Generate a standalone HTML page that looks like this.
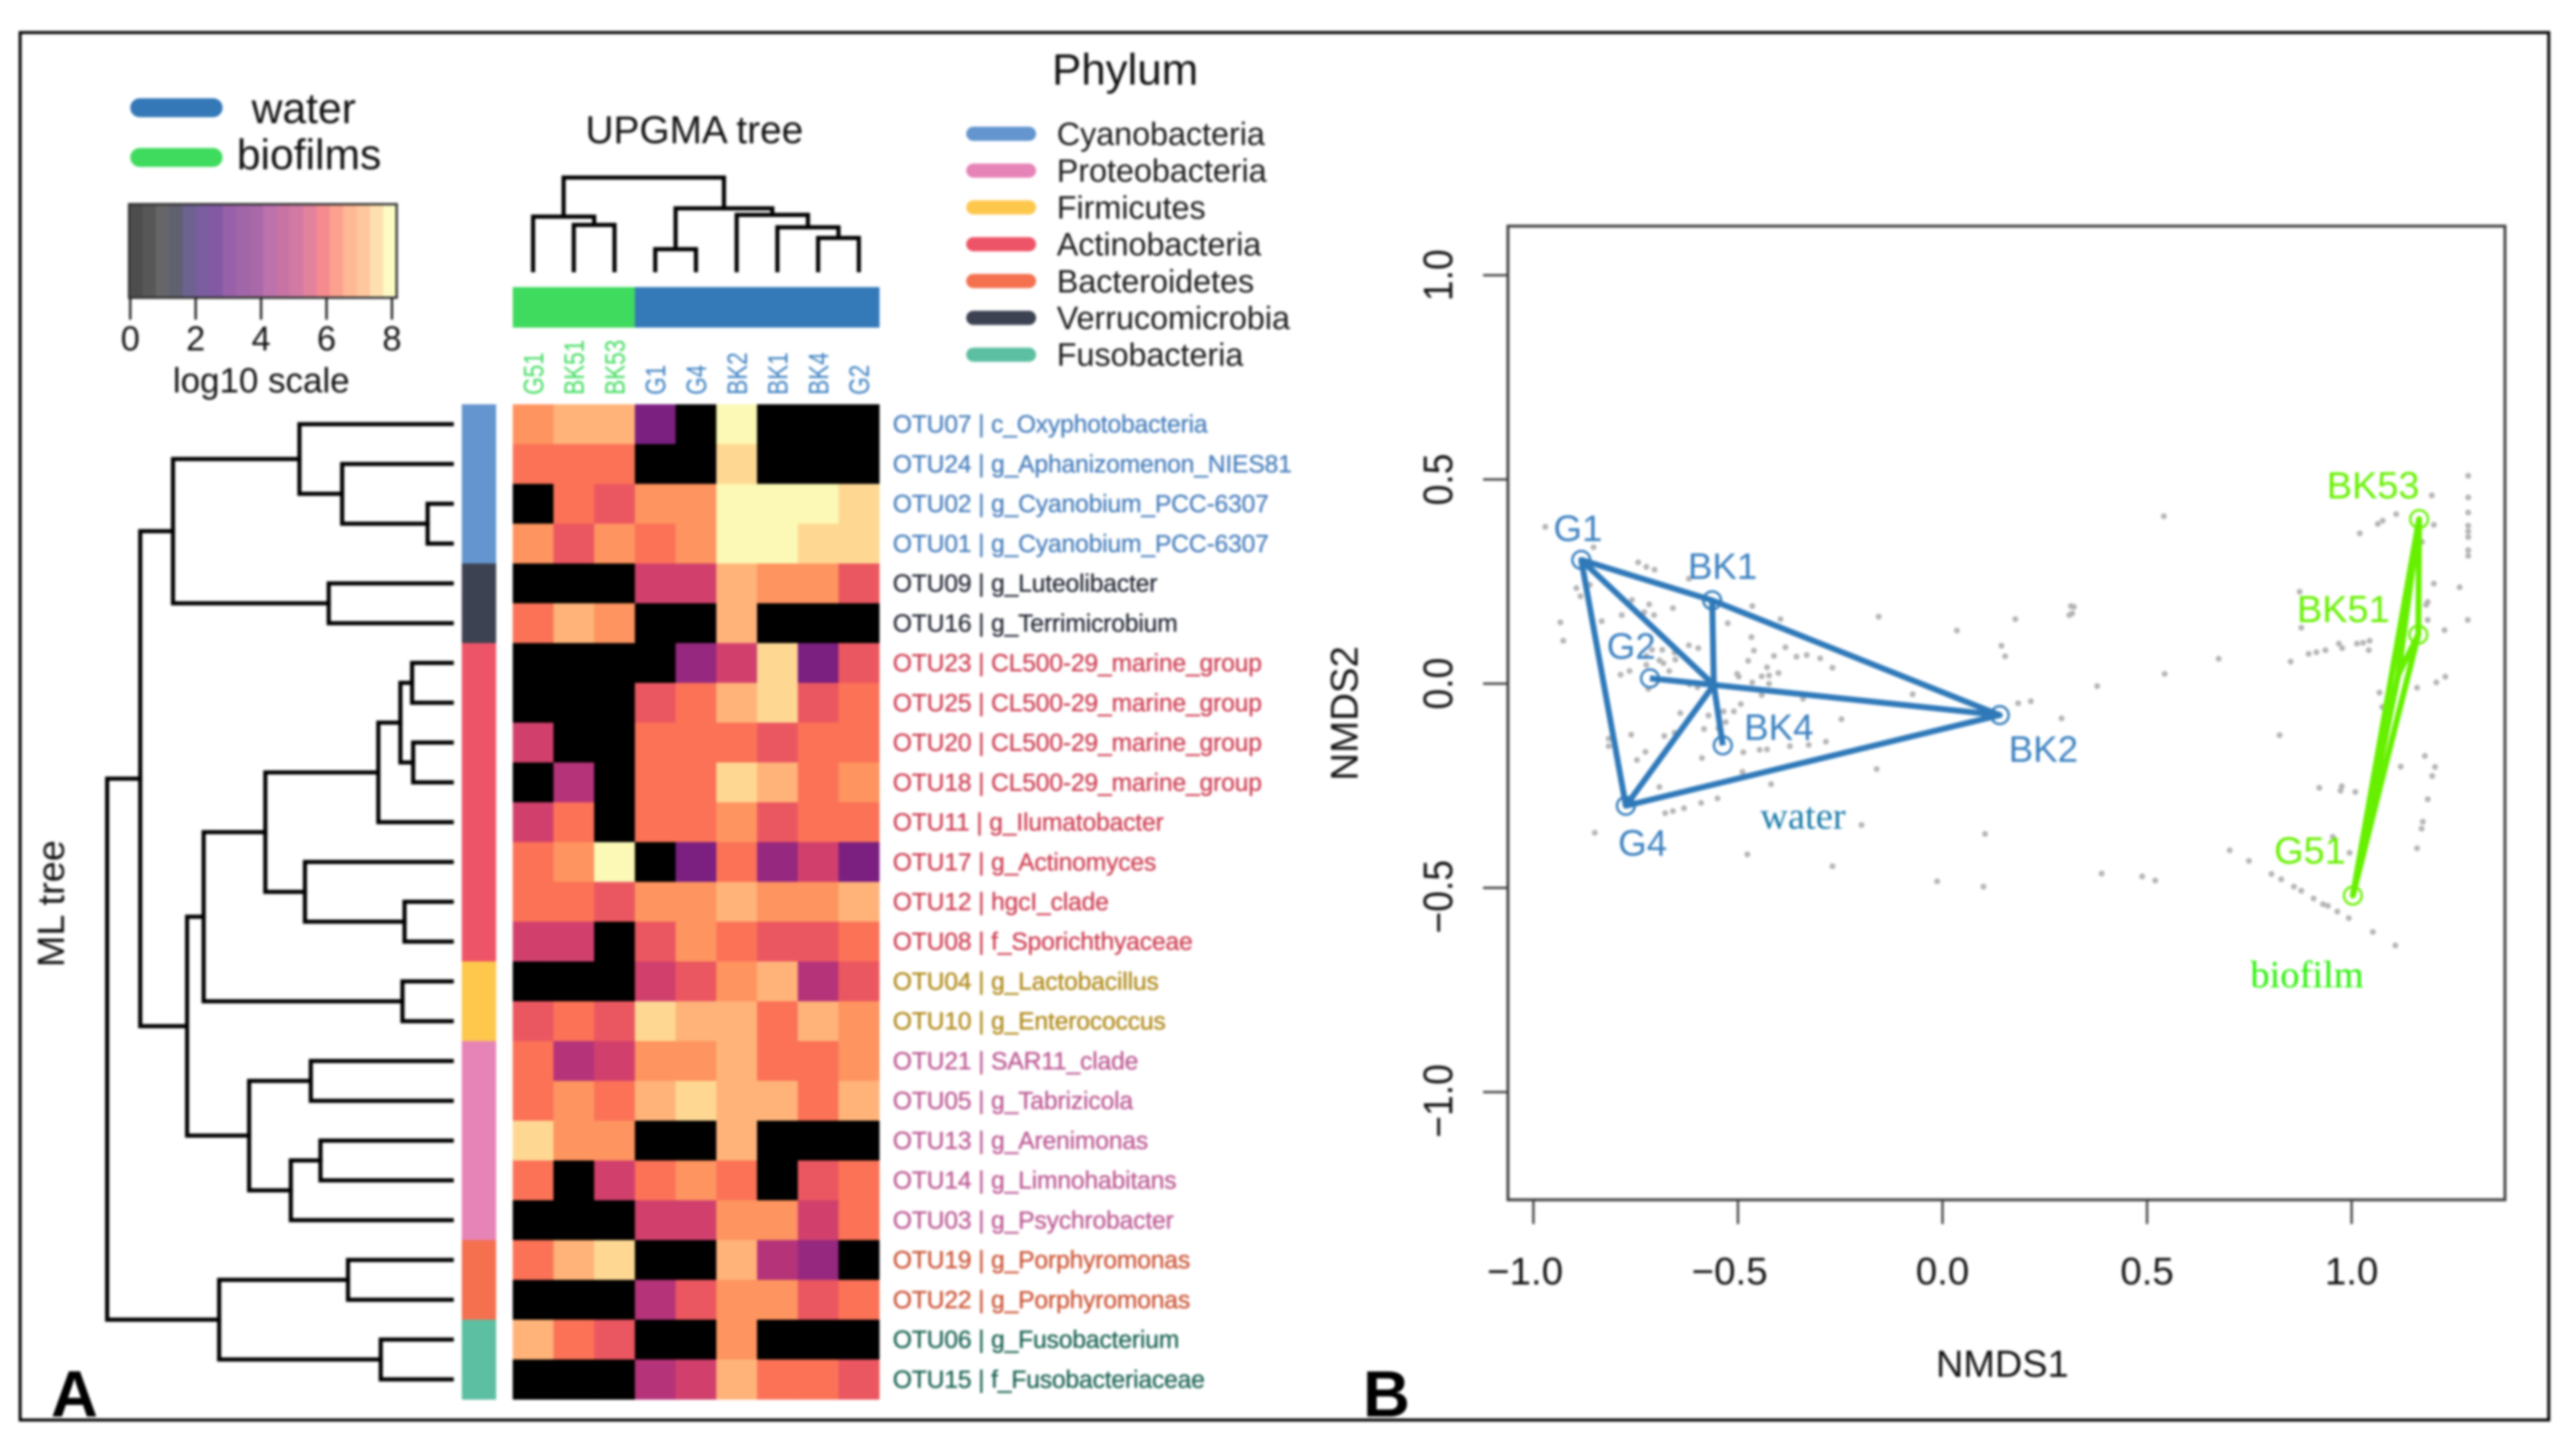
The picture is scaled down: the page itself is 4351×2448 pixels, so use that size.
<!DOCTYPE html>
<html lang="en">
<head>
<meta charset="utf-8">
<title>OTU heatmap and NMDS ordination</title>
<style>
html,body{margin:0;padding:0;background:#fff;width:4351px;height:2448px;overflow:hidden}
svg{display:block;font-family:"Liberation Sans",sans-serif;filter:blur(2px)}
.serif{font-family:"Liberation Serif",serif}
</style>
</head>
<body>
<svg id="fig" xmlns="http://www.w3.org/2000/svg" width="4351" height="2448" viewBox="0 0 4351 2448">
  <rect x="0" y="0" width="4351" height="2448" fill="#fff"/>
  <rect x="34" y="55" width="4271" height="2344" fill="none" stroke="#000" stroke-width="5"/>

  <g id="panelA">
    <rect x="220" y="166" width="156" height="32" rx="16" fill="#3478b8"/>
    <text x="425" y="208" font-size="72" fill="#111">water</text>
    <rect x="220" y="250" width="156" height="32" rx="16" fill="#3fdb5e"/>
    <text x="400" y="286" font-size="72" fill="#111">biofilms</text>
    <text x="1777" y="143" font-size="74" fill="#111">Phylum</text>
    <text x="989" y="242" font-size="65.5" fill="#111">UPGMA tree</text>
    <text x="292" y="663" font-size="59" fill="#111">log10 scale</text>
    <text transform="translate(108 1634) rotate(-90)" font-size="64" fill="#111">ML tree</text>
    <text x="86" y="2393" font-size="110" font-weight="bold" fill="#000">A</text>
  </g>

  <g id="panelB">
    <rect x="2547" y="382" width="1684" height="1645" fill="none" stroke="#444" stroke-width="5"/>
    <text x="3270" y="2326" font-size="64" fill="#111">NMDS1</text>
    <text transform="translate(2293 1319) rotate(-90)" font-size="65" fill="#111">NMDS2</text>
    <text class="serif" x="2973" y="1400" font-size="65" fill="#1a7aa8">water</text>
    <text class="serif" x="3801" y="1668" font-size="65" fill="#22f000">biofilm</text>
    <text x="2302" y="2393" font-size="110" font-weight="bold" fill="#000">B</text>
  </g>
</svg>

<script>
// ---- heatmap data (log10 abundance) ----
const sampleNames = ["G51","BK51","BK53","G1","G4","BK2","BK1","BK4","G2"];
const sampleGroups = ["biofilm","biofilm","biofilm","water","water","water","water","water","water"];
const otuLabels = [
"OTU07 | c_Oxyphotobacteria","OTU24 | g_Aphanizomenon_NIES81","OTU02 | g_Cyanobium_PCC-6307","OTU01 | g_Cyanobium_PCC-6307",
"OTU09 | g_Luteolibacter","OTU16 | g_Terrimicrobium","OTU23 | CL500-29_marine_group","OTU25 | CL500-29_marine_group",
"OTU20 | CL500-29_marine_group","OTU18 | CL500-29_marine_group","OTU11 | g_Ilumatobacter","OTU17 | g_Actinomyces",
"OTU12 | hgcI_clade","OTU08 | f_Sporichthyaceae","OTU04 | g_Lactobacillus","OTU10 | g_Enterococcus",
"OTU21 | SAR11_clade","OTU05 | g_Tabrizicola","OTU13 | g_Arenimonas","OTU14 | g_Limnohabitans",
"OTU03 | g_Psychrobacter","OTU19 | g_Porphyromonas","OTU22 | g_Porphyromonas","OTU06 | g_Fusobacterium","OTU15 | f_Fusobacteriaceae"];
const otuPhyla = ["Cyanobacteria","Cyanobacteria","Cyanobacteria","Cyanobacteria","Verrucomicrobia","Verrucomicrobia",
"Actinobacteria","Actinobacteria","Actinobacteria","Actinobacteria","Actinobacteria","Actinobacteria","Actinobacteria","Actinobacteria",
"Firmicutes","Firmicutes","Proteobacteria","Proteobacteria","Proteobacteria","Proteobacteria","Proteobacteria",
"Bacteroidetes","Bacteroidetes","Fusobacteria","Fusobacteria"];
const heatValues = [
[6.4,6.8,6.8,4.0,0,8.0,0,0,0],
[6.0,6.0,6.0,0,0,7.4,0,0,0],
[0,6.0,5.6,6.4,6.4,8.0,8.0,8.0,7.4],
[6.4,5.6,6.4,6.0,6.4,8.0,8.0,7.4,7.4],
[0,0,0,5.2,5.2,6.8,6.4,6.4,5.6],
[6.0,6.8,6.4,0,0,6.8,0,0,0],
[0,0,0,0,4.4,5.2,7.4,4.0,5.6],
[0,0,0,5.6,6.0,6.8,7.4,5.6,6.0],
[5.2,0,0,6.0,6.0,6.0,5.6,6.0,6.0],
[0,4.8,0,6.0,6.0,7.4,6.8,6.0,6.4],
[5.2,6.0,0,6.0,6.0,6.4,5.6,6.0,6.0],
[6.0,6.4,8.0,0,4.0,6.0,4.4,5.2,4.0],
[6.0,6.0,5.6,6.4,6.4,6.8,6.4,6.4,6.8],
[5.2,5.2,0,5.6,6.4,6.0,5.6,5.6,6.0],
[0,0,0,5.2,5.6,6.4,6.8,4.8,5.6],
[5.6,6.0,5.6,7.4,6.8,6.8,6.0,6.8,6.4],
[6.0,4.8,5.2,6.4,6.4,6.8,6.0,6.0,6.4],
[6.0,6.4,6.0,6.8,7.4,6.8,6.8,6.0,6.8],
[7.4,6.4,6.4,0,0,6.8,0,0,0],
[6.0,0,5.2,6.0,6.4,6.0,0,5.6,6.0],
[0,0,0,5.2,5.2,6.4,6.4,5.2,6.0],
[6.0,6.8,7.4,0,0,6.8,4.8,4.4,0],
[0,0,0,4.8,5.6,6.4,6.4,5.6,6.0],
[6.8,6.0,5.6,0,0,6.4,0,0,0],
[0,0,0,4.8,5.2,6.8,6.0,6.0,5.6]];
const heatStops = [0,4.0,4.4,4.8,5.2,5.6,6.0,6.4,6.8,7.4,8.0];
const heatStopColors = ["#000000","#7b1f80","#96287f","#b53379","#d1406d","#eb5760","#fb7257","#fe945f","#ffb379","#fed893","#fbf9b5"];
const legendColors = ["#4d4d4d","#575757","#66666a","#5f6070","#6d6290","#7a5ea0","#8359a3","#9860a8","#a066a8","#a968a8","#bb72ad","#c774a4","#d27aa4","#e2829c","#f58b8f","#fba18e","#feb895","#fec79e","#fee0b0","#fdfbc4"];
const legendTicks = [0,2,4,6,8];
const phylumNames = ["Cyanobacteria","Proteobacteria","Firmicutes","Actinobacteria","Bacteroidetes","Verrucomicrobia","Fusobacteria"];
const phylumFill = ["#6495cf","#e684b7","#fec84d","#ee5467","#f4704f","#3d4252","#5cbfa2"];
const phylumText = ["#4a80bd","#bd5a94","#b08a1a","#cf4155","#cc5436","#262b38","#1a6353"];
// trees: [depth, child, child]; a plain number child is a leaf index
const mlTree = [0,
 [.096,
  [.191,[.558,0,[.682,1,[.93,2,3]]],[.643,4,5]],
  [.232,
   [.28,[.459,[.787,[.851,[.885,6,7],[.888,8,9]],10],[.574,11,[.863,12,13]]],[.857,14,15]],
   [.412,[.591,16,17],[.533,[.619,18,19],20]]]],
 [.325,[.699,21,22],[.794,23,24]]];
const upgmaTree = [1,[.5875,0,[.5,1,2]],[.675,[.244,3,4],[.606,5,[.475,6,[.3625,7,8]]]]];

// ---- ordination data ----
const siteNames = ["G1","BK1","G2","BK4","BK2","G4","BK53","BK51","G51"];
const siteNmds1 = [-0.883,-0.563,-0.715,-0.537,0.140,-0.774,1.165,1.163,1.003];
const siteNmds2 = [0.303,0.204,0.013,-0.151,-0.077,-0.299,0.403,0.120,-0.519];
const siteGroups = ["water","water","water","water","water","water","biofilm","biofilm","biofilm"];
const waterHull = ["G1","BK1","BK2","G4"];
const biofilmHull = ["BK53","BK51","G51"];
const waterCentroid = [-0.559,-0.003];
const biofilmCentroid = [1.114,0.022];
const xTicks = [-1,-0.5,0,0.5,1];
const yTicks = [-1,-0.5,0,0.5,1];
const otuNmds1 = [-0.971,-0.853,-0.744,-0.724,-0.704,-0.620,-0.895,-0.862,-0.885,-0.759,-0.717,-0.659,-0.784,-0.729,-0.705,-0.833,-0.934,-0.927,-0.465,-0.396,-0.525,-0.467,-0.156,0.035,0.178,0.144,0.153,0.310,0.314,-0.620,-0.597,-0.685,-0.710,-0.724,-0.655,-0.692,-0.682,-0.724,-0.653,-0.461,-0.384,-0.412,-0.357,-0.332,-0.299,-0.475,-0.269,-0.429,-0.401,-0.502,-0.498,-0.442,-0.424,-0.787,-0.765,-0.668,-0.719,-0.618,-0.599,-0.465,-0.424,-0.442,-0.341,-0.073,0.185,0.216,0.291,-0.493,-0.641,-0.572,-0.535,-0.510,-0.530,-0.583,-0.548,-0.247,-0.761,-0.680,-0.655,-0.816,-0.816,-0.726,-0.747,-0.487,-0.447,-0.429,-0.373,-0.327,-0.285,-0.588,-0.161,-0.489,-0.419,-0.692,-0.550,-0.590,-0.632,-0.659,-0.678,-0.850,-0.198,-0.477,-0.269,0.104,-0.013,0.100,
0.541,0.675,0.543,0.378,0.321,0.317,0.873,0.877,0.851,0.895,0.914,0.936,0.969,0.977,1.013,1.028,1.044,1.042,1.020,1.064,1.076,1.109,1.196,1.201,1.285,1.285,1.285,1.285,1.285,1.285,1.285,1.285,1.172,1.201,1.264,1.186,1.182,1.186,1.284,1.227,1.160,1.207,1.229,1.068,1.075,0.824,1.179,1.120,1.204,1.197,0.921,0.976,0.973,1.009,1.186,1.174,1.171,1.160,0.954,0.995,0.702,0.749,0.804,0.828,0.859,0.877,0.907,0.930,0.942,0.965,0.993,1.052,1.107,0.389,0.488,0.520];
const otuNmds2 = [0.384,0.334,0.297,0.286,0.279,0.257,0.234,0.242,0.214,0.205,0.194,0.185,0.168,0.175,0.168,0.153,0.150,0.105,0.190,0.158,0.148,0.114,0.164,0.130,0.158,0.093,0.067,0.168,0.190,0.094,0.087,0.083,0.083,0.068,0.076,0.057,0.050,0.046,0.059,0.081,0.089,0.068,0.066,0.070,0.062,0.056,0.039,0.040,0.026,0.024,0.017,0.018,0.020,0.022,0.031,0.031,-0.013,-0.002,-0.009,0.003,0.000,-0.028,-0.037,-0.026,-0.048,-0.043,-0.085,-0.050,-0.072,-0.078,-0.068,-0.068,-0.094,-0.111,-0.109,-0.087,-0.125,-0.128,-0.120,-0.135,-0.153,-0.167,-0.187,-0.168,-0.162,-0.161,-0.153,-0.150,-0.142,-0.182,-0.209,-0.216,-0.246,-0.253,-0.281,-0.292,-0.305,-0.312,-0.317,-0.365,-0.346,-0.418,-0.447,-0.368,-0.484,-0.497,
0.410,0.061,0.024,-0.006,0.188,0.172,0.225,0.137,0.054,0.073,0.077,0.082,0.098,0.087,0.098,0.100,0.105,0.082,0.368,0.391,0.399,0.415,0.461,0.389,0.509,0.456,0.419,0.387,0.373,0.359,0.327,0.313,0.347,0.245,0.236,0.200,0.193,0.156,0.156,0.131,-0.010,0.003,0.017,-0.022,-0.057,-0.126,-0.177,-0.203,-0.204,-0.226,-0.255,-0.251,-0.262,-0.265,-0.283,-0.338,-0.355,-0.403,-0.375,-0.414,-0.408,-0.434,-0.466,-0.479,-0.497,-0.507,-0.526,-0.540,-0.544,-0.558,-0.574,-0.608,-0.641,-0.465,-0.472,-0.482];

// ---- layout ----
const NS = "http://www.w3.org/2000/svg";
const fig = document.getElementById("fig");
const panelA = document.getElementById("panelA");
const panelB = document.getElementById("panelB");
const heatLeft = 866, heatRight = 1485, heatTop = 683, heatBottom = 2364;
const colW = (heatRight - heatLeft) / sampleNames.length;
const rowH = (heatBottom - heatTop) / otuLabels.length;
const colX = i => heatLeft + colW * i;
const rowY = i => heatTop + rowH * i;
const colC = i => colX(i) + colW / 2;
const rowC = i => rowY(i) + rowH / 2;
const mlX = d => 181 + 582 * d;
const upgmaY = h => 460 - 160 * h;
const legendX = v => 220 + 55.25 * v;
const nmdsX = v => 3281 + 691 * v;
const nmdsY = v => 1155 - 690 * v;
const groupColor = {water:"#2f79b9", biofilm:"#66f000"};
const sampleColor = {water:"#3a7fc0", biofilm:"#3fdb5e"};
const annotColor = {water:"#347ab8", biofilm:"#3fdb5e"};

function mk(tag, attrs, parent, text) {
  const el = document.createElementNS(NS, tag);
  for (const k in attrs) el.setAttribute(k, attrs[k]);
  if (text !== undefined) el.textContent = text;
  parent.appendChild(el);
  return el;
}
function hex(c){return [1,3,5].map(i=>parseInt(c.substr(i,2),16));}
function heatColor(v){
  if (v <= 0) return heatStopColors[0];
  let k = 1;
  while (k < heatStops.length - 1 && v > heatStops[k]) k++;
  const lo = heatStops[k-1], hi = heatStops[k];
  const t = Math.max(0, Math.min(1, (v - lo) / (hi - lo)));
  if (k === 1) return t < 0.75 ? heatStopColors[0] : heatStopColors[1];
  const a = hex(heatStopColors[k-1]), b = hex(heatStopColors[k]);
  return "rgb(" + a.map((x,i)=>Math.round(x+(b[i]-x)*t)).join(",") + ")";
}

// colorbar
const barLeft = 218, barRight = 670, barTop = 345, barBottom = 503;
const binW = (barRight - barLeft) / legendColors.length;
legendColors.forEach((c, i) => {
  const el = mk("rect", {x: barLeft + i * binW, y: barTop, width: binW + 0.5, height: barBottom - barTop, fill: c}, panelA);
  
  
});
const barOutline = mk("rect", {x: barLeft, y: barTop, width: barRight - barLeft, height: barBottom - barTop, fill: "none", stroke: "#333", "stroke-width": 4}, panelA);


legendTicks.forEach(v => {
  const tick = mk("line", {x1: legendX(v), x2: legendX(v), y1: barBottom, y2: 540, stroke: "#222", "stroke-width": 4}, panelA);
  
  
  const lab = mk("text", {x: legendX(v), y: 592, "font-size": 58, "text-anchor": "middle", fill: "#111"}, panelA, String(v));
  
  
});

// phylum legend
phylumNames.forEach((name, i) => {
  const cy = 226 + 62.2 * i;
  const sw = mk("rect", {x: 1632, y: cy - 12, width: 118, height: 24, rx: 12, fill: phylumFill[i]}, panelA);
  
  
  const tx = mk("text", {x: 1785, y: cy + 19, "font-size": 54.5, fill: "#1a1a1a"}, panelA, name);
  
  
});

// heatmap
heatValues.forEach((row, r) => {
  row.forEach((v, c) => {
    const cell = mk("rect", {x: colX(c), y: rowY(r), width: colW + 0.6, height: rowH + 0.6, fill: heatColor(v)}, panelA);
    
    
  });
});

// sample annotation bar and labels
sampleNames.forEach((name, c) => {
  const g = sampleGroups[c];
  const seg = mk("rect", {x: colX(c), y: 485, width: colW + 0.6, height: 68.5, fill: annotColor[g]}, panelA);
  
  
  const lab = mk("text", {transform: "translate(" + (colC(c) + 17) + " 667) rotate(-90) scale(1 1.25)", "font-size": 38, fill: sampleColor[g]}, panelA, name);
  
  
});

// phylum side bar and OTU labels
otuLabels.forEach((label, r) => {
  const idx = phylumNames.indexOf(otuPhyla[r]);
  const seg = mk("rect", {x: 780, y: rowY(r), width: 58, height: rowH + 0.6, fill: phylumFill[idx]}, panelA);
  
  
  const lab = mk("text", {x: 1508, y: rowC(r) + 14, "font-size": 41.5, "letter-spacing": -0.2, fill: phylumText[idx], stroke: phylumText[idx], "stroke-width": 0.6}, panelA, label);
  
  
});

// ML tree (left, horizontal)
function drawMl(node) {
  if (typeof node === "number") return {x: 763, y: rowC(node)};
  const x = mlX(node[0]);
  const a = drawMl(node[1]), b = drawMl(node[2]);
  const d = "M" + a.x + " " + a.y + "H" + x + "V" + b.y + "H" + b.x;
  const p = mk("path", {d: d, fill: "none", stroke: "#000", "stroke-width": 7, "stroke-linecap": "square"}, panelA);
  
  
  return {x: x, y: (a.y + b.y) / 2};
}
const mlRoot = drawMl(mlTree);

// UPGMA tree (top, vertical)
function drawUpgma(node) {
  if (typeof node === "number") return {x: colC(node), y: 460};
  const y = upgmaY(node[0]);
  const a = drawUpgma(node[1]), b = drawUpgma(node[2]);
  const d = "M" + a.x + " " + a.y + "V" + y + "H" + b.x + "V" + b.y;
  const p = mk("path", {d: d, fill: "none", stroke: "#000", "stroke-width": 7}, panelA);
  
  
  return {x: (a.x + b.x) / 2, y: y};
}
const upgmaRoot = drawUpgma(upgmaTree);

// NMDS axes
const fmtTick = v => (v < 0 ? "\u2212" : "") + Math.abs(v).toFixed(1);
xTicks.forEach(v => {
  const t = mk("line", {x1: nmdsX(v), x2: nmdsX(v), y1: 2027, y2: 2068, stroke: "#444", "stroke-width": 4}, panelB);
  
  
  const l = mk("text", {x: nmdsX(v) - (v < 0 ? 14 : 0), y: 2170, "font-size": 65, "text-anchor": "middle", fill: "#111"}, panelB, fmtTick(v));
  
  
});
yTicks.forEach(v => {
  const t = mk("line", {x1: 2505, x2: 2547, y1: nmdsY(v), y2: nmdsY(v), stroke: "#444", "stroke-width": 4}, panelB);
  
  
  const l = mk("text", {transform: "translate(2453 " + (nmdsY(v) + (v < 0 ? 15 : 0)) + ") rotate(-90) scale(1 1.1)", "font-size": 63, "text-anchor": "middle", fill: "#111"}, panelB, fmtTick(v));
  
  
});

// OTU points
otuNmds1.forEach((v, i) => {
  const c = mk("circle", {cx: nmdsX(v), cy: nmdsY(otuNmds2[i]), r: 5, fill: "#b4b4b4"}, panelB);
  
  
});

// hulls and spiders
const sitePos = name => {
  const i = siteNames.indexOf(name);
  return [nmdsX(siteNmds1[i]), nmdsY(siteNmds2[i])];
};
function drawHull(names, color, nameAttr) {
  const h = mk("polygon", {points: names.map(n => sitePos(n).join(",")).join(" "), fill: "none", stroke: color, "stroke-width": 10, "stroke-linejoin": "round"}, panelB);
  
  
}
drawHull(waterHull, groupColor.water, 'water-hull');
drawHull(biofilmHull, groupColor.biofilm, 'biofilm-hull');
siteNames.forEach((name, i) => {
  const g = siteGroups[i];
  const cen = g === "water" ? waterCentroid : biofilmCentroid;
  const s = mk("line", {x1: nmdsX(cen[0]), y1: nmdsY(cen[1]), x2: nmdsX(siteNmds1[i]), y2: nmdsY(siteNmds2[i]), stroke: groupColor[g], "stroke-width": 10}, panelB);
  
  
});

// site markers and labels
const labelOffX = {G1:-47,BK1:-41,G2:-73,BK4:36,BK2:15,G4:-13,BK53:-156,BK51:-205,G51:-133};
const labelOffY = {G1:-32,BK1:-36,G2:-33,BK4:-9,BK2:79,G4:84,BK53:-35,BK51:-21,G51:-54};
siteNames.forEach((name, i) => {
  const g = siteGroups[i];
  const px = nmdsX(siteNmds1[i]), py = nmdsY(siteNmds2[i]);
  const c = mk("circle", {cx: px, cy: py, r: 15, fill: "none", stroke: groupColor[g], "stroke-width": 4}, panelB);
  
  
  const t = mk("text", {x: px + labelOffX[name], y: py + labelOffY[name], "font-size": g === "water" ? 62 : 64, fill: g === "water" ? "#3a80c0" : "#66f000"}, panelB, name);
  
  
});
</script>
</body>
</html>
